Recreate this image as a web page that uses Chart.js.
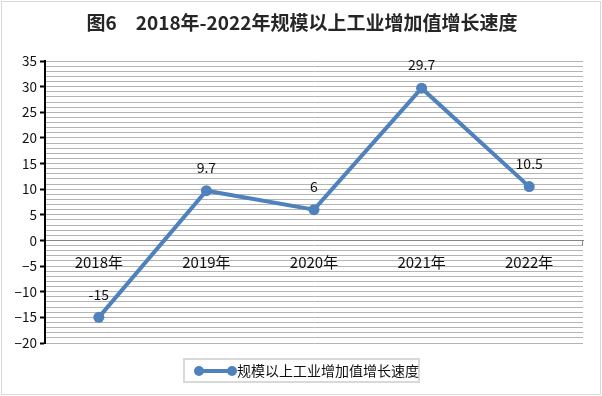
<!DOCTYPE html>
<html>
<head>
<meta charset="utf-8">
<script src="https://cdn.jsdelivr.net/npm/chart.js@4/dist/chart.umd.min.js"></script>
<style>
html,body{margin:0;padding:0;background:#fff;}
#wrap{width:602px;height:396px;}
</style>
</head>
<body>
<div id="wrap"><canvas id="c" width="602" height="396"></canvas></div>
<script>
const titleText = '图6\u30002018年-2022年规模以上工业增加值增长速度';
const seriesName = '规模以上工业增加值增长速度';
const categories = ['2018年', '2019年', '2020年', '2021年', '2022年'];
const growth = [-15, 9.7, 6, 29.7, 10.5];
const valueLabels = ['-15', '9.7', '6', '29.7', '10.5'];
const yMin = -20, yMax = 35, yMajorStep = 5, yMinorStep = 1;

const lineColor = '#4f81bd';
const font = '"Noto Sans CJK SC", "Noto Sans", sans-serif';

const decor = {
  id: 'decor',
  beforeDraw(chart) {
    const ctx = chart.ctx;
    ctx.save();
    ctx.fillStyle = '#fff';
    ctx.fillRect(0, 0, chart.width, chart.height);
    ctx.restore();
  },
  afterDatasetsDraw(chart) {
    const ctx = chart.ctx;
    const meta = chart.getDatasetMeta(0);
    ctx.save();
    ctx.font = '14px ' + font;
    ctx.fillStyle = '#111';
    ctx.textAlign = 'center';
    ctx.textBaseline = 'middle';
    meta.data.forEach((pt, i) => {
      ctx.fillText(valueLabels[i], pt.x, pt.y - 23);
    });
    ctx.restore();
  },
  afterDraw(chart) {
    const ctx = chart.ctx;
    ctx.save();
    // outer border
    ctx.strokeStyle = '#d9d9d9';
    ctx.lineWidth = 1;
    ctx.strokeRect(1.5, 1.5, 599, 393);
    // title
    ctx.font = 'bold 19px ' + font;
    ctx.fillStyle = '#262626';
    ctx.textAlign = 'center';
    ctx.textBaseline = 'middle';
    ctx.fillText(titleText, 302, 23);
    // x-axis right end tick
    const x = chart.scales.x, y = chart.scales.y;
    const y0 = Math.round(y.getPixelForValue(0)) + 0.5;
    ctx.strokeStyle = '#868686';
    ctx.lineWidth = 1;
    ctx.beginPath();
    ctx.moveTo(x.right - 0.5, y0);
    ctx.lineTo(x.right - 0.5, y0 + 5);
    ctx.stroke();
    // legend box
    ctx.strokeStyle = '#d9d9d9';
    ctx.lineWidth = 2;
    ctx.strokeRect(184, 359, 235, 23);
    ctx.strokeStyle = lineColor;
    ctx.lineWidth = 4;
    ctx.beginPath();
    ctx.moveTo(199, 371);
    ctx.lineTo(232, 371);
    ctx.stroke();
    ctx.fillStyle = lineColor;
    [199, 232].forEach(cx => {
      ctx.beginPath();
      ctx.arc(cx, 371, 5, 0, Math.PI * 2);
      ctx.fill();
    });
    ctx.font = '14px ' + font;
    ctx.fillStyle = '#111';
    ctx.textAlign = 'left';
    ctx.textBaseline = 'middle';
    ctx.fillText(seriesName, 237, 371);
    ctx.restore();
  }
};

new Chart(document.getElementById('c'), {
  type: 'line',
  data: {
    labels: categories,
    datasets: [{
      label: seriesName,
      data: growth,
      borderColor: lineColor,
      backgroundColor: lineColor,
      borderWidth: 4,
      pointRadius: 5.5,
      pointHoverRadius: 5.5,
      pointBackgroundColor: lineColor,
      pointBorderWidth: 0,
      tension: 0
    }]
  },
  options: {
    responsive: false,
    animation: false,
    devicePixelRatio: 1,
    layout: { padding: { left: 0, right: 19, top: 61, bottom: 53 } },
    plugins: {
      legend: { display: false },
      title: { display: false },
      tooltip: { enabled: false }
    },
    scales: {
      x: {
        type: 'category',
        position: { y: 0 },
        offset: true,
        grid: { display: false, drawTicks: false },
        border: { display: true, color: '#868686', width: 1 },
        ticks: {
          font: { family: font, size: 15 },
          color: '#111',
          padding: 13,
          maxRotation: 0,
          autoSkip: false
        }
      },
      y: {
        min: yMin,
        max: yMax,
        afterFit(scale) { scale.width = 45; },
        grid: {
          color: '#b4b4b4',
          lineWidth: 1,
          tickLength: 5,
          tickWidth: 2,
          tickColor: (c) => (c.tick && c.tick.value % yMajorStep === 0) ? '#000' : 'rgba(0,0,0,0)'
        },
        border: { display: true, color: '#000', width: 2 },
        ticks: {
          stepSize: yMinorStep,
          autoSkip: false,
          padding: 3,
          color: '#111',
          font: { family: font, size: 13.5 },
          callback: (v) => (v % yMajorStep === 0) ? String(v).replace('-', '\u2212') : ''
        }
      }
    }
  },
  plugins: [decor]
});
</script>
</body>
</html>
